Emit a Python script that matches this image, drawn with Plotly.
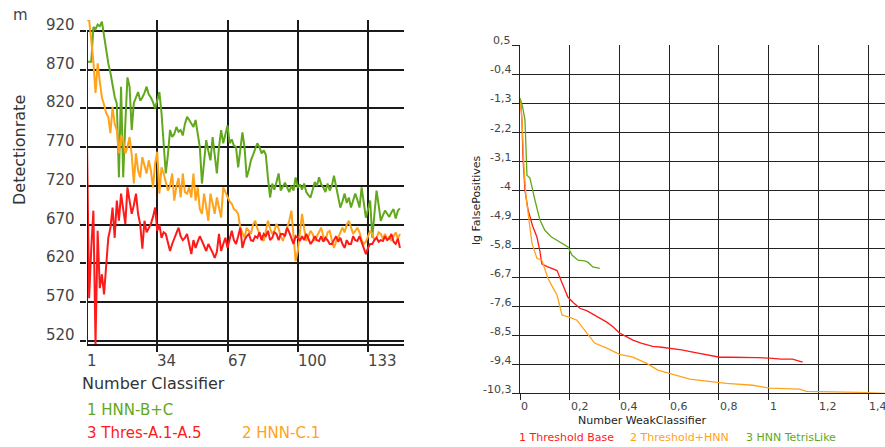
import plotly.graph_objects as go

W, H = 885, 447

# ---------------- Left panel data ----------------
left_xticks = [1, 34, 67, 100, 133]
left_yticks = [520, 570, 620, 670, 720, 770, 820, 870, 920]

hnn_bc = [880, 880, 880, 925, 922, 928, 926, 932, 912, 895,
          878, 866, 850, 835, 826, 731, 848, 731, 800, 860,
          848, 792, 827, 835, 841, 830, 834, 840, 848, 838,
          834, 828, 820, 830, 841, 814, 780, 736, 760, 792,
          783, 787, 796, 790, 792, 785, 800, 809, 805, 800,
          796, 805, 790, 770, 723, 750, 779, 765, 753, 783,
          760, 736, 770, 792, 775, 785, 798, 775, 780, 772,
          770, 744, 765, 789, 770, 731, 740, 753, 760, 768,
          775, 770, 762, 766, 760, 730, 705, 723, 715, 725,
          736, 714, 720, 724, 718, 712, 720, 714, 731, 718,
          722, 715, 723, 712, 708, 705, 715, 725, 720, 731,
          722, 718, 712, 723, 714, 720, 733, 720, 705, 692,
          700, 710, 698, 705, 692, 700, 710, 702, 692, 718,
          700, 679, 690, 701, 653, 690, 714, 695, 675, 682,
          688, 684, 680, 686, 690, 678, 688, 691]

hnn_c1 = [934, 934, 908, 880, 840, 878, 855, 834, 825, 814,
          809, 788, 822, 800, 792, 762, 785, 779, 762, 770,
          783, 760, 723, 762, 740, 731, 757, 745, 736, 753,
          740, 718, 749, 764, 710, 744, 736, 725, 714, 720,
          736, 701, 720, 730, 705, 736, 712, 710, 718, 705,
          736, 701, 718, 690, 684, 710, 690, 675, 710, 695,
          684, 705, 690, 679, 718, 712, 705, 700, 697, 690,
          688, 684, 666, 660, 653, 666, 662, 658, 670, 675,
          665, 658, 652, 649, 660, 675, 665, 658, 662, 671,
          665, 655, 649, 658, 666, 675, 688, 658, 623, 636,
          658, 684, 665, 649, 655, 662, 658, 649, 655, 660,
          666, 655, 649, 660, 662, 650, 640, 648, 653, 660,
          666, 660, 670, 675, 665, 658, 662, 666, 660, 650,
          645, 648, 655, 662, 658, 650, 653, 660, 658, 652,
          658, 650, 655, 649, 655, 660, 652, 658]

thres_a = [775, 575, 640, 688, 516, 662, 588, 606, 580, 620,
           653, 666, 692, 653, 701, 675, 710, 690, 671, 718,
           700, 684, 695, 710, 684, 670, 639, 675, 660, 666,
           671, 680, 692, 662, 670, 653, 660, 658, 648, 636,
           645, 653, 660, 666, 655, 650, 653, 658, 645, 632,
           650, 640, 648, 655, 649, 642, 636, 645, 640, 634,
           627, 635, 658, 636, 645, 653, 640, 650, 662, 650,
           645, 655, 666, 640, 650, 655, 658, 650, 649, 655,
           653, 660, 650, 658, 655, 662, 650, 653, 660, 658,
           650, 658, 658, 655, 666, 660, 653, 645, 655, 653,
           649, 655, 650, 658, 652, 645, 649, 655, 650, 649,
           655, 648, 653, 650, 645, 645, 650, 655, 648, 653,
           645, 640, 650, 645, 645, 655, 650, 649, 655, 648,
           640, 632, 640, 645, 645, 650, 653, 648, 650, 649,
           655, 650, 652, 658, 648, 645, 652, 640]

# ---------------- Right panel data ----------------
right_xticks = [0, 0.2, 0.4, 0.6, 0.8, 1, 1.2, 1.4]
right_xtext = ["0", "0,2", "0,4", "0,6", "0,8", "1", "1,2", "1,4"]
right_yticks = [0.5, -0.4, -1.3, -2.2, -3.1, -4, -4.9, -5.8, -6.7, -7.6, -8.5, -9.4, -10.3]
right_ytext = ["0,5", "-0,4", "-1,3", "-2,2", "-3,1", "-4", "-4,9", "-5,8", "-6,7", "-7,6", "-8,5", "-9,4", "-10,3"]

base_x = [0, 0.005, 0.008, 0.012, 0.02, 0.032, 0.05, 0.068, 0.08, 0.088, 0.11, 0.13, 0.149,
          0.17, 0.193, 0.215, 0.241, 0.27, 0.30, 0.325, 0.349, 0.375, 0.40, 0.43, 0.454,
          0.49, 0.534, 0.57, 0.602, 0.65, 0.695, 0.75, 0.803, 0.85, 0.896, 0.95, 1.004,
          1.05, 1.096, 1.137]
base_y = [-1.2, -1.5, -1.9, -3.0, -4.0, -4.6, -5.1, -5.46, -5.9, -6.3, -6.38, -6.45, -6.5,
          -6.9, -7.33, -7.5, -7.67, -7.75, -7.88, -7.98, -8.1, -8.25, -8.44, -8.56, -8.66,
          -8.76, -8.85, -8.88, -8.91, -8.96, -9.03, -9.1, -9.19, -9.19, -9.19, -9.2, -9.22,
          -9.25, -9.25, -9.34]

thhnn_x = [0, 0.006, 0.01, 0.016, 0.024, 0.03, 0.04, 0.048, 0.068, 0.088, 0.1, 0.112, 0.13,
           0.149, 0.169, 0.2, 0.229, 0.25, 0.269, 0.30, 0.349, 0.40, 0.454, 0.51, 0.554,
           0.602, 0.683, 0.75, 0.831, 0.936, 1.004, 1.124, 1.152, 1.365, 1.47]
thhnn_y = [-1.2, -1.6, -2.2, -3.3, -4.2, -4.6, -5.2, -5.65, -6.12, -6.18, -6.45, -6.74, -7.0,
           -7.26, -7.88, -7.95, -8.04, -8.25, -8.41, -8.75, -8.91, -9.1, -9.19, -9.38, -9.59,
           -9.69, -9.87, -9.93, -10.0, -10.06, -10.15, -10.18, -10.25, -10.28, -10.31]

tetris_x = [0, 0.01, 0.02, 0.024, 0.028, 0.04, 0.048, 0.06, 0.08, 0.1, 0.125, 0.149, 0.175,
            0.193, 0.209, 0.233, 0.26, 0.273, 0.293, 0.321]
tetris_y = [-1.15, -1.4, -1.83, -2.8, -3.54, -3.63, -3.94, -4.31, -4.93, -5.25, -5.45, -5.56,
            -5.68, -5.77, -6.02, -6.18, -6.2, -6.24, -6.39, -6.43]

GREEN = "#62a81c"
RED = "#ff1a1a"
ORANGE = "#ffa31a"
TXT = "#444444"
FONT = "DejaVu Sans"

fig = go.Figure()

fig.add_trace(go.Scatter(x=list(range(1, len(hnn_bc) + 1)), y=hnn_bc, mode="lines",
                         line=dict(color=GREEN, width=2), xaxis="x", yaxis="y", name="1 HNN-B+C"))
fig.add_trace(go.Scatter(x=list(range(1, len(hnn_c1) + 1)), y=hnn_c1, mode="lines",
                         line=dict(color=ORANGE, width=2), xaxis="x", yaxis="y", name="2 HNN-C.1"))
fig.add_trace(go.Scatter(x=list(range(1, len(thres_a) + 1)), y=thres_a, mode="lines",
                         line=dict(color=RED, width=2), xaxis="x", yaxis="y", name="3 Thres-A.1-A.5"))

fig.add_trace(go.Scatter(x=base_x, y=base_y, mode="lines", line=dict(color=RED, width=1.3),
                         xaxis="x2", yaxis="y2", name="1 Threshold Base"))
fig.add_trace(go.Scatter(x=thhnn_x, y=thhnn_y, mode="lines", line=dict(color=ORANGE, width=1.3),
                         xaxis="x2", yaxis="y2", name="2 Threshold+HNN"))
fig.add_trace(go.Scatter(x=tetris_x, y=tetris_y, mode="lines", line=dict(color=GREEN, width=1.3),
                         xaxis="x2", yaxis="y2", name="3 HNN TetrisLike"))

def px(xp):
    return xp / W

def py(yp):
    return 1 - yp / H

annotations = []

# left panel tick labels
for t in left_xticks:
    annotations.append(dict(x=t, xref="x", y=py(361), yref="paper", text=str(t), showarrow=False,
                            xanchor="left", yanchor="middle", xshift=-2,
                            font=dict(family=FONT, size=15, color=TXT)))
for t in left_yticks:
    annotations.append(dict(x=px(77), xref="paper", y=t, yref="y", text=str(t), showarrow=False,
                            xanchor="right", yanchor="middle", yshift=6,
                            font=dict(family=FONT, size=15, color=TXT)))

# right panel tick labels
for t, s in zip(right_xticks, right_xtext):
    annotations.append(dict(x=t, xref="x2", y=py(406), yref="paper", text=s, showarrow=False,
                            xanchor="left", yanchor="middle", xshift=-1,
                            font=dict(family=FONT, size=11, color=TXT)))
for t, s in zip(right_yticks, right_ytext):
    annotations.append(dict(x=px(513), xref="paper", y=t, yref="y2", text=s, showarrow=False,
                            xanchor="right", yanchor="middle", yshift=4,
                            font=dict(family=FONT, size=11, color=TXT)))

def label(text, xp, yp, size, color, anchor="left", angle=0):
    annotations.append(dict(x=px(xp), y=py(yp), xref="paper", yref="paper", text=text,
                            showarrow=False, xanchor=anchor, yanchor="middle", textangle=angle,
                            font=dict(family=FONT, size=size, color=color)))

label("m", 11, 15, 15, TXT)
label("Detectionrate", 20, 150, 16, "#333333", anchor="center", angle=-90)
label("Number Classifier", 80, 383, 16, "#333333")
label("1 HNN-B+C", 85, 410, 15, GREEN)
label("3 Thres-A.1-A.5", 85, 433, 15, RED)
label("2 HNN-C.1", 240, 433, 15, ORANGE)

label("lg FalsePositives", 476, 200, 11, "#222222", anchor="center", angle=-90)
label("Number WeakClassifier", 576, 420, 11, "#222222")
label("1 Threshold Base", 517, 437, 11, RED)
label("2 Threshold+HNN", 628, 437, 11, ORANGE)
label("3 HNN TetrisLike", 744, 437, 11, GREEN)

shapes = [
    # left panel y axis line starting at the top gridline
    dict(type="line", xref="x", yref="y", x0=1, x1=1, y0=left_yticks[-1], y1=516,
         line=dict(color="#222222", width=2), layer="above"),
]

grid_l = "#1a1a1a"
grid_r = "#222222"

fig.update_layout(
    width=W, height=H,
    margin=dict(l=0, r=0, t=0, b=0),
    paper_bgcolor="white", plot_bgcolor="white",
    showlegend=False,
    annotations=annotations,
    shapes=shapes,
    xaxis=dict(domain=[px(87), px(404)], range=[1, 149.9], anchor="y",
               tickvals=left_xticks[1:], showticklabels=False, ticks="outside", ticklen=6,
               tickcolor=grid_l, tickwidth=1.5, showgrid=True, gridcolor=grid_l, gridwidth=2,
               zeroline=False, showline=True, linecolor=grid_l, linewidth=2),
    yaxis=dict(domain=[py(344), py(20)], range=[516, 934], anchor="x",
               tickvals=left_yticks, showticklabels=False, ticks="outside", ticklen=6,
               tickcolor=grid_l, tickwidth=1.5, showgrid=True, gridcolor=grid_l, gridwidth=2,
               zeroline=False, showline=False),
    xaxis2=dict(domain=[px(520), 1.0], range=[0, 1.468], anchor="y2",
                tickvals=right_xticks, showticklabels=False, ticks="outside", ticklen=6,
                tickcolor=grid_r, tickwidth=1.3, showgrid=True, gridcolor=grid_r, gridwidth=1.4,
                zeroline=False, showline=True, linecolor=grid_r, linewidth=1.4),
    yaxis2=dict(domain=[py(393), py(45)], range=[-10.3, 0.5], anchor="x2",
                tickvals=right_yticks, showticklabels=False, ticks="outside", ticklen=7,
                tickcolor=grid_r, tickwidth=1.3, showgrid=True, gridcolor=grid_r, gridwidth=1.4,
                zeroline=False, showline=True, linecolor=grid_r, linewidth=1.4),
)

fig.write_html("out.html", config={"displayModeBar": False},
               post_script="document.body.style.margin='0';document.body.style.overflow='hidden';")
